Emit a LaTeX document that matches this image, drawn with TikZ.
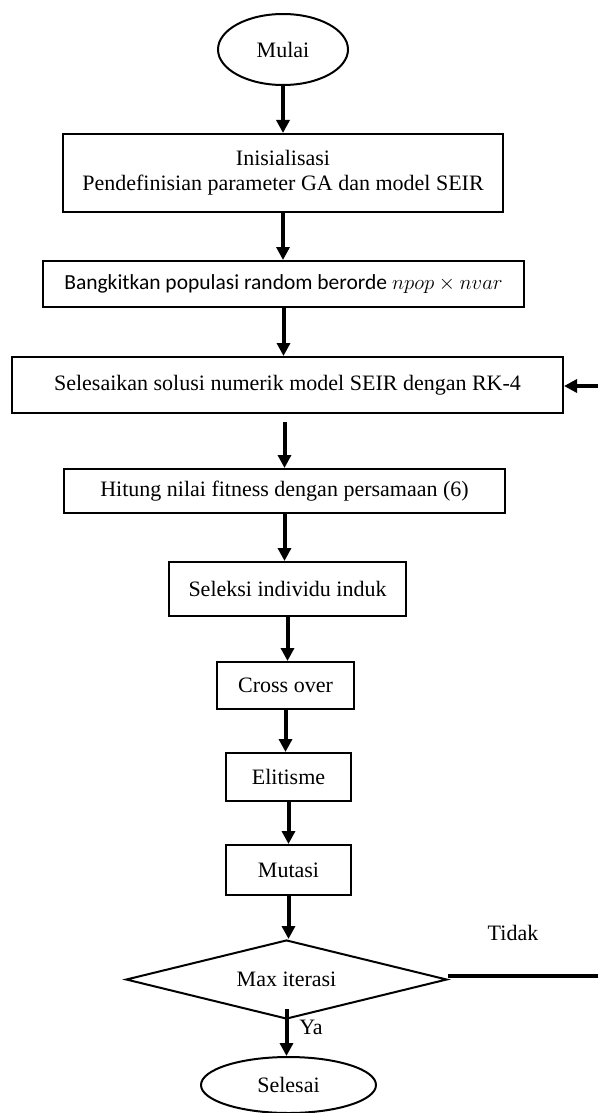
\documentclass[tikz,border=0pt]{standalone}
\usepackage{fontspec}
\setmainfont{Liberation Serif}
\newfontfamily\calibri{Carlito}
\usetikzlibrary{shapes.geometric,arrows.meta}
\tikzset{
  kotak/.style={draw, line width=2pt, rectangle, inner sep=0pt, align=center},
  elips/.style={draw, line width=2pt, ellipse, inner sep=0pt},
  ketupat/.style={draw, line width=2pt, diamond, aspect=4, inner sep=0pt},
  panah/.style={line width=4pt, -{Triangle[width=13pt,length=13pt]}},
  garis/.style={line width=4pt}
}

\begin{document}
\begin{tikzpicture}[x=1pt, y=-1pt, font=\fontsize{22}{25}\selectfont]
			%%%%% START %%%%%
			\useasboundingbox (0,0) rectangle (598,1113);
			
			\node[elips, minimum width=130pt, minimum height=71pt] (mulai) at (283, 49.5) {Mulai};
			
			\node[kotak, minimum width=440pt, minimum height=78pt] (init) at (283, 173) {Inisialisasi\\Pendefinisian parameter GA dan model SEIR};
			\node[kotak, minimum width=481pt, minimum height=46pt] (bangkit) at (283.5, 284) {\calibri\fontsize{21.5}{25}\selectfont Bangkitkan populasi random berorde $npop \times nvar$};
			\node[kotak, minimum width=551pt, minimum height=56pt] (solusi) at (287.5, 385) {Selesaikan solusi numerik model SEIR dengan RK-4};
			\node[kotak, minimum width=441pt, minimum height=44pt] (fitness) at (284.5, 491) {Hitung nilai fitness dengan persamaan (6)};
			\node[kotak, minimum width=237pt, minimum height=54pt] (seleksi) at (287.5, 589) {Seleksi individu induk};
			\node[kotak, minimum width=137pt, minimum height=47pt] (cross) at (285.5, 685.5) {Cross over};
			\node[kotak, minimum width=125pt, minimum height=48pt] (elitisme) at (288.5, 777) {Elitisme};
			\node[kotak, minimum width=125pt, minimum height=50pt] (mutasi) at (288.5, 870) {Mutasi};
			
			\node[ketupat, minimum width=321pt, minimum height=79pt] (iterasi) at (286.5, 979.5) {Max iterasi};
			\node[elips, minimum width=175pt, minimum height=56pt] (selesai) at (288.5, 1085) {Selesai};
			
			\node (tidak) at (513, 933) {Tidak};
			\node (ya) at (311, 1027) {Ya};
			
			\coordinate (tepiA) at (598, 386);
			\coordinate (tepiB) at (598, 976);
			
			\draw[panah] (mulai.south) -- (mulai.south |- init.north);
			\draw[panah] (init.south) -- (init.south |- bangkit.north);
			\draw[panah] (bangkit.south) -- (bangkit.south |- solusi.north);
			\draw[panah, shorten <=8pt] (fitness.north |- solusi.south) -- (fitness.north);
			\draw[panah] (fitness.south) -- (fitness.south |- seleksi.north);
			\draw[panah] (seleksi.south) -- (seleksi.south |- cross.north);
			\draw[panah] (cross.south) -- (cross.south |- elitisme.north);
			\draw[panah] (elitisme.south) -- (elitisme.south |- mutasi.north);
			\draw[panah] (mutasi.south) -- (mutasi.south |- iterasi.north);
			\draw[panah, shorten <=-11pt] (iterasi.south) -- (iterasi.south |- selesai.north);
			
			\draw[garis] (iterasi.east |- tepiB) -- (tepiB);
			\draw[panah] (tepiA) -- (tepiA -| solusi.east);
			
			%%%%% END %%%%%
\end{tikzpicture}
\end{document}
